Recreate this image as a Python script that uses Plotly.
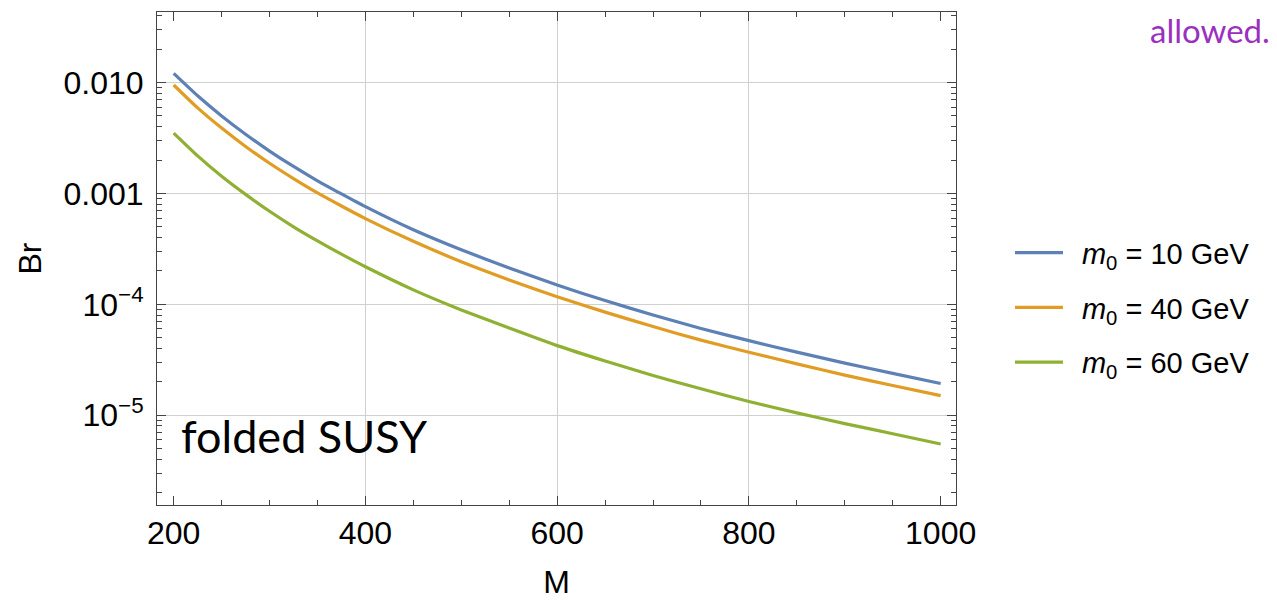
import numpy as np
import plotly.graph_objects as go

# ---- data ----
M = [200, 225, 250, 275, 300, 325, 350, 375, 400, 450, 500, 550, 600, 650, 700, 750, 800, 850, 900, 950, 1000]
br_m10 = [0.0121, 0.0076, 0.0050, 0.00342, 0.00241, 0.00175, 0.00130, 9.9e-4, 7.6e-4, 4.7e-4, 3.1e-4,
          2.13e-4, 1.49e-4, 1.08e-4, 8.0e-5, 6.05e-5, 4.7e-5, 3.7e-5, 2.95e-5, 2.38e-5, 1.93e-5]
br_m40 = [0.0095, 0.0059, 0.00388, 0.00265, 0.00187, 0.00136, 0.00101, 7.7e-4, 5.93e-4, 3.7e-4, 2.42e-4,
          1.66e-4, 1.17e-4, 8.5e-5, 6.3e-5, 4.75e-5, 3.7e-5, 2.9e-5, 2.3e-5, 1.85e-5, 1.50e-5]
br_m60 = [0.0035, 0.00218, 0.00143, 9.8e-4, 6.9e-4, 5.0e-4, 3.73e-4, 2.83e-4, 2.18e-4, 1.35e-4, 8.9e-5,
          6.1e-5, 4.24e-5, 3.08e-5, 2.28e-5, 1.73e-5, 1.33e-5, 1.05e-5, 8.4e-6, 6.8e-6, 5.5e-6]
series_names = ["\u00a0\u2009<i>m</i><sub>0</sub> = 10 GeV",
                "\u00a0\u2009<i>m</i><sub>0</sub> = 40 GeV",
                "\u00a0\u2009<i>m</i><sub>0</sub> = 60 GeV"]
colors = ["#5E81B5", "#E19C24", "#8FB032"]

x_ticks = [200, 400, 600, 800, 1000]
x_grid = [400, 600, 800]
y_ticks = [1e-2, 1e-3, 1e-4, 1e-5]
y_ticktext = ["0.010", "0.001", "10<sup>\u22124</sup>", "10<sup>\u22125</sup>"]

y_minor = [m * 10.0 ** e for e in range(-6, -1) for m in range(2, 10)]
x_minor = list(range(150, 1051, 50))

xr = [182.6, 1016.0]
yr = [-5.81, -1.364]

fig = go.Figure()
for ys, name, c in zip([br_m10, br_m40, br_m60], series_names, colors):
    fig.add_trace(go.Scatter(x=M, y=ys, mode="lines", name=name,
                             line=dict(color=c, width=3.2, shape="spline", smoothing=0.5),
                             legendgroup=name))
# empty helper trace so the grid-only overlay axis is drawn
fig.add_trace(go.Scatter(x=[], y=[], xaxis="x2", yaxis="y", showlegend=False, hoverinfo="skip"))

axcol = "#444444"
font_tick = dict(family="Liberation Sans, Arial, sans-serif", size=32, color="black")

fig.update_layout(
    width=1277, height=600,
    margin=dict(l=157, r=321, t=12, b=95, autoexpand=False),
    paper_bgcolor="white", plot_bgcolor="white",
    showlegend=True,
    legend=dict(x=1.0676, y=0.40, xanchor="left", yanchor="middle",
                font=dict(family="Liberation Sans, Arial, sans-serif", size=29, color="black"),
                tracegroupgap=14, itemwidth=48, bgcolor="rgba(0,0,0,0)"),
    xaxis=dict(range=xr, tickvals=x_ticks, ticks="inside", ticklen=9, tickwidth=1,
               tickcolor=axcol, showline=True, linecolor=axcol, linewidth=1, mirror="ticks",
               showgrid=False, zeroline=False, tickfont=font_tick, automargin=False,
               minor=dict(tickvals=x_minor, ticks="inside", ticklen=5, tickcolor=axcol, showgrid=False),
               title=dict(text="M", font=font_tick, standoff=20)),
    xaxis2=dict(range=xr, overlaying="x", side="bottom", tickvals=x_grid, showgrid=True,
                gridcolor="#d0d0d0", gridwidth=1, showticklabels=False, ticks="",
                showline=False, zeroline=False, automargin=False),
    yaxis=dict(type="log", range=yr, tickvals=y_ticks, ticktext=y_ticktext,
               ticks="inside", ticklen=9, tickwidth=1, tickcolor=axcol,
               showline=True, linecolor=axcol, linewidth=1, mirror="ticks",
               showgrid=True, gridcolor="#d0d0d0", gridwidth=1, zeroline=False,
               tickfont=font_tick, ticklabelstandoff=6, automargin=False,
               minor=dict(tickvals=y_minor, ticks="inside", ticklen=5, tickcolor=axcol, showgrid=False),
               title=dict(text="Br", font=font_tick, standoff=12)),
)

fig.add_annotation(text="folded SUSY", xref="paper", yref="paper", x=0.028, y=0.14,
                   xanchor="left", yanchor="middle", showarrow=False,
                   font=dict(family="Lato, sans-serif", size=45, color="black"))
fig.add_annotation(text="allowed.", xref="paper", yref="paper", x=(1272 - 157) / 799, y=(505 - 30) / 493,
                   xanchor="right", yanchor="middle", showarrow=False,
                   font=dict(family="Lato, sans-serif", size=33, color="#9B30C0"))

fig.write_html("out.html")
